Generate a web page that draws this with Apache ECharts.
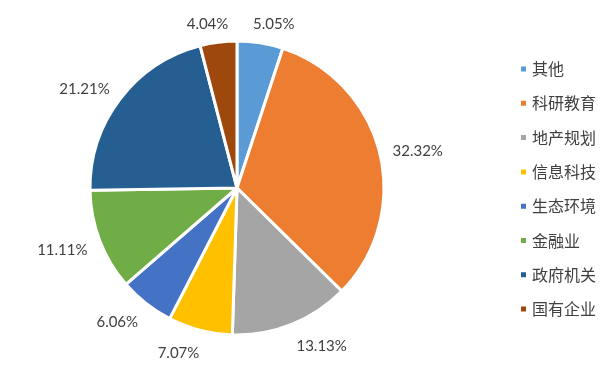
<!DOCTYPE html>
<html>
<head>
<meta charset="utf-8">
<script src="https://cdn.jsdelivr.net/npm/echarts@6/dist/echarts.min.js"></script>
<style>
  html, body { margin: 0; padding: 0; background: #fff; }
  #chart { width: 614px; height: 376px; }
</style>
</head>
<body>
<div id="chart"></div>
<script>
var categories = ['其他', '科研教育', '地产规划', '信息科技', '生态环境', '金融业', '政府机关', '国有企业'];
var values = [5, 32, 13, 7, 6, 11, 21, 4];
var colors = ['#5B9BD5', '#ED7D31', '#A5A5A5', '#FFC000', '#4472C4', '#70AD47', '#255E91', '#9E480E'];

var chart = echarts.init(document.getElementById('chart'));

var pieCenter = [237, 188];
var pieRadius = 147;
var labelGap = 13;
var labelFont = '15px Lato, "Noto Sans CJK SC", sans-serif';

var total = 0;
values.forEach(function(v){ total += v; });

function percentText(v){
	return (v / total * 100).toFixed(2) + '%';
}

// mid angle of every slice, clockwise from 12 o'clock
var midAngles = [];
var acc = 0;
values.forEach(function(v){
	midAngles.push((acc + v / 2) / total * Math.PI * 2);
	acc += v;
});

// measure label widths once
var measureCtx = document.createElement('canvas').getContext('2d');
measureCtx.font = labelFont;

var seriesData = [];
categories.forEach(function(name, i){
	seriesData.push({
		name: name,
		value: values[i],
		itemStyle: { color: colors[i] }
	});
});

var textColor = '#404040';

var option = {
	animation: false,
	legend: {
		orient: 'vertical',
		left: 514,
		top: 56,
		itemWidth: 7,
		itemHeight: 7,
		itemGap: 18.3,
		icon: 'rect',
		textStyle: {
			color: textColor,
			fontSize: 16,
			fontFamily: '"Noto Sans CJK SC", sans-serif',
			lineHeight: 16
		},
		data: categories
	},
	series: [
		{
			name: '分布',
			type: 'pie',
			radius: pieRadius,
			center: pieCenter,
			startAngle: 90,
			clockwise: true,
			data: seriesData,
			itemStyle: {
				borderColor: '#fff',
				borderWidth: 3
			},
			label: {
				show: true,
				position: 'outside',
				color: textColor,
				fontSize: 15,
				width: 60,
				overflow: 'none',
				fontFamily: 'Lato, "Noto Sans CJK SC", sans-serif',
				formatter: function(p){
					return percentText(p.value);
				}
			},
			labelLine: {
				show: false
			},
			// label sits just outside the rim on the slice's middle direction,
			// pushed sideways by (part of) its own width like excel does
			labelLayout: function(params){
				var a = midAngles[params.dataIndex];
				var ux = Math.sin(a);
				var uy = -Math.cos(a);
				var w = measureCtx.measureText(percentText(values[params.dataIndex])).width;
				var h = 16;
				var side = ux >= 0 ? 1 : -1;
				var push = Math.min(1, Math.abs(ux) * 3.5);
				var x = pieCenter[0] + ux * (pieRadius + labelGap) + side * push * w / 2;
				var y = pieCenter[1] + uy * (pieRadius + labelGap) + uy * h / 2 + 2.5;
				return {
					x: x,
					y: y,
					align: 'center',
					verticalAlign: 'middle'
				};
			}
		}
	]
};

chart.setOption(option);
</script>
</body>
</html>
